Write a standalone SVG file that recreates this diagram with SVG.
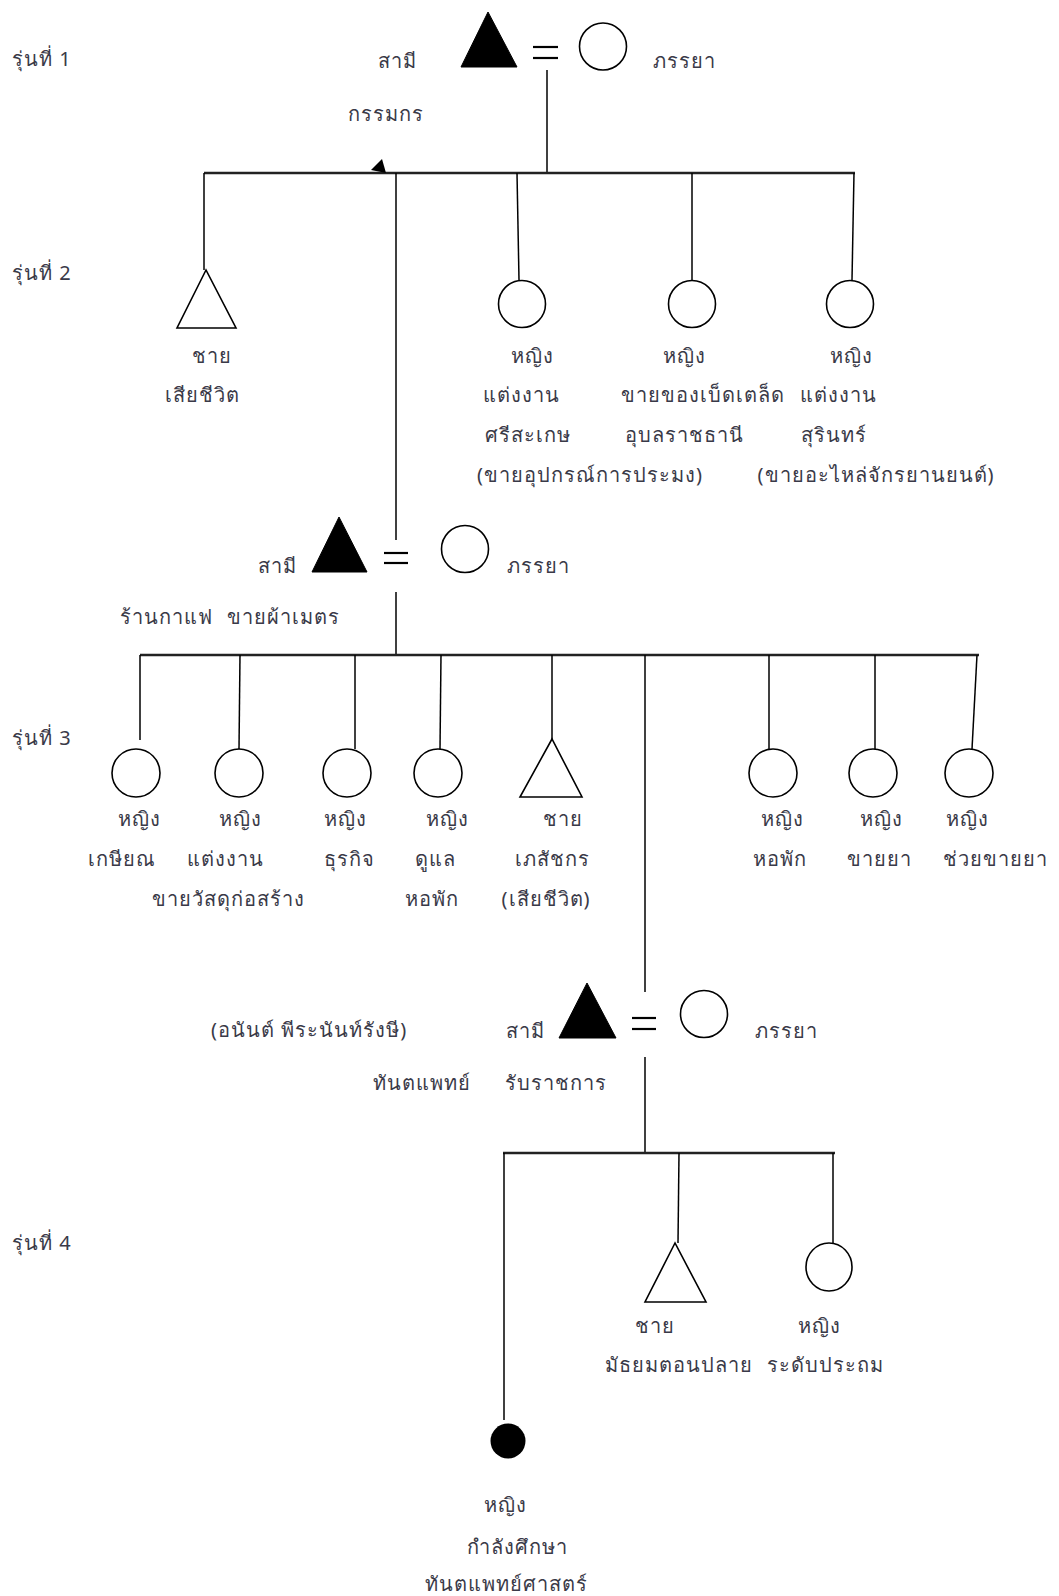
<svg xmlns="http://www.w3.org/2000/svg" width="1059" height="1596" viewBox="0 0 1059 1596">
<style>
text{font-family:"Noto Sans","DejaVu Sans",sans-serif;font-size:20px;letter-spacing:1px;fill:#3a3a48}
.m{text-anchor:middle}
.ln{stroke:#000;stroke-width:1.5;fill:none}
.bar{stroke:#222;stroke-width:2.5;fill:none}
.male{fill:#fff;stroke:#000;stroke-width:1.6}
.maleD{fill:#000;stroke:#000;stroke-width:1}
.fem{fill:#fff;stroke:#000;stroke-width:1.6}
.eq{stroke:#000;stroke-width:2.2}
</style>
<rect width="1059" height="1596" fill="#fff"/>
<g id="gen-labels">
<text x="12" y="66">รุ่นที่ 1</text>
<text x="12" y="280">รุ่นที่ 2</text>
<text x="12" y="745">รุ่นที่ 3</text>
<text x="12" y="1250">รุ่นที่ 4</text>
</g>
<g id="connectors">
<line class="ln" x1="547" y1="70" x2="547" y2="173"/>
<line class="bar" x1="204" y1="173" x2="855" y2="173"/>
<polygon points="382,159 371,170 386,173" fill="#000"/>
<line class="ln" x1="204" y1="173" x2="204" y2="270"/>
<line class="ln" x1="396" y1="173" x2="396" y2="540"/>
<line class="ln" x1="517" y1="173" x2="519" y2="280"/>
<line class="ln" x1="692" y1="173" x2="692" y2="280"/>
<line class="ln" x1="854" y1="173" x2="852" y2="280"/>
<line class="ln" x1="396" y1="592" x2="396" y2="655"/>
<line class="bar" x1="140" y1="655" x2="979" y2="655"/>
<line class="ln" x1="140" y1="655" x2="140" y2="740"/>
<line class="ln" x1="240" y1="655" x2="239" y2="749"/>
<line class="ln" x1="355" y1="655" x2="355" y2="749"/>
<line class="ln" x1="441" y1="655" x2="440" y2="749"/>
<line class="ln" x1="552" y1="655" x2="552" y2="739"/>
<line class="ln" x1="645" y1="655" x2="645" y2="992"/>
<line class="ln" x1="769" y1="655" x2="769" y2="749"/>
<line class="ln" x1="875" y1="655" x2="875" y2="749"/>
<line class="ln" x1="977" y1="655" x2="972" y2="749"/>
<line class="ln" x1="645" y1="1057" x2="645" y2="1153"/>
<line class="bar" x1="503" y1="1153" x2="835" y2="1153"/>
<line class="ln" x1="504" y1="1153" x2="504" y2="1420"/>
<line class="ln" x1="679" y1="1153" x2="678" y2="1243"/>
<line class="ln" x1="833" y1="1153" x2="833" y2="1243"/>
</g>
<g id="g1-husband">
<polygon class="maleD" points="488,12 461,67 517,67"/>
<text x="378" y="68">สามี</text>
<text x="348" y="121">กรรมกร</text>
</g>
<g id="g1-marriage">
<line class="eq" x1="533" y1="47" x2="558" y2="47"/>
<line class="eq" x1="533" y1="58" x2="558" y2="58"/>
</g>
<g id="g1-wife">
<circle class="fem" cx="603" cy="46.5" r="23.5"/>
<text x="653" y="68">ภรรยา</text>
</g>
<g id="g2-son">
<polygon class="male" points="206,270 177,328 236,328"/>
<text class="m" x="212" y="363">ชาย</text>
<text class="m" x="202" y="402">เสียชีวิต</text>
</g>
<g id="g2-daughter1">
<circle class="fem" cx="522" cy="304" r="23.5"/>
<text class="m" x="532" y="363">หญิง</text>
<text class="m" x="521" y="402">แต่งงาน</text>
<text class="m" x="528" y="442">ศรีสะเกษ</text>
<text class="m" x="590" y="482">(ขายอุปกรณ์การประมง)</text>
</g>
<g id="g2-daughter2">
<circle class="fem" cx="692" cy="304" r="23.5"/>
<text class="m" x="684" y="363">หญิง</text>
<text class="m" x="703" y="402">ขายของเบ็ดเตล็ด</text>
<text class="m" x="684" y="442">อุบลราชธานี</text>
</g>
<g id="g2-daughter3">
<circle class="fem" cx="850" cy="304" r="23.5"/>
<text class="m" x="851" y="363">หญิง</text>
<text class="m" x="838" y="402">แต่งงาน</text>
<text class="m" x="834" y="442">สุรินทร์</text>
<text class="m" x="876" y="482">(ขายอะไหล่จักรยานยนต์)</text>
</g>
<g id="g2-son2-husband">
<polygon class="maleD" points="339,517 312,572 367,572"/>
<text x="258" y="573">สามี</text>
<text x="120" y="624">ร้านกาแฟ</text>
<text x="227" y="624">ขายผ้าเมตร</text>
</g>
<g id="g2-marriage">
<line class="eq" x1="384" y1="553" x2="408" y2="553"/>
<line class="eq" x1="384" y1="563" x2="408" y2="563"/>
</g>
<g id="g2-wife">
<circle class="fem" cx="465" cy="549" r="23.5"/>
<text x="507" y="573">ภรรยา</text>
</g>
<g id="g3-c1">
<ellipse class="fem" cx="136" cy="773" rx="24" ry="24"/>
<text class="m" x="139" y="826">หญิง</text>
<text class="m" x="122" y="866">เกษียณ</text>
</g>
<g id="g3-c2">
<ellipse class="fem" cx="239" cy="773" rx="24" ry="24"/>
<text class="m" x="240" y="826">หญิง</text>
<text class="m" x="225" y="866">แต่งงาน</text>
<text class="m" x="228" y="906">ขายวัสดุก่อสร้าง</text>
</g>
<g id="g3-c3">
<ellipse class="fem" cx="347" cy="773" rx="24" ry="24"/>
<text class="m" x="345" y="826">หญิง</text>
<text class="m" x="349" y="866">ธุรกิจ</text>
</g>
<g id="g3-c4">
<ellipse class="fem" cx="438" cy="773" rx="24" ry="24"/>
<text class="m" x="447" y="826">หญิง</text>
<text class="m" x="435" y="866">ดูแล</text>
<text class="m" x="432" y="906">หอพัก</text>
</g>
<g id="g3-c5">
<polygon class="male" points="552,739 520,797 582,797"/>
<text class="m" x="563" y="826">ชาย</text>
<text class="m" x="552" y="866">เภสัชกร</text>
<text class="m" x="546" y="906">(เสียชีวิต)</text>
</g>
<g id="g3-c7">
<ellipse class="fem" cx="773" cy="773" rx="24" ry="24"/>
<text class="m" x="782" y="826">หญิง</text>
<text class="m" x="780" y="866">หอพัก</text>
</g>
<g id="g3-c8">
<ellipse class="fem" cx="873" cy="773" rx="24" ry="24"/>
<text class="m" x="881" y="826">หญิง</text>
<text class="m" x="879" y="866">ขายยา</text>
</g>
<g id="g3-c9">
<ellipse class="fem" cx="969" cy="773" rx="24" ry="24"/>
<text class="m" x="967" y="826">หญิง</text>
<text class="m" x="995" y="866">ช่วยขายยา</text>
</g>
<g id="g3-husband">
<polygon class="maleD" points="587,983 559,1038 616,1038"/>
<text x="506" y="1038">สามี</text>
<text x="211" y="1037">(อนันต์ พีระนันท์รังษี)</text>
<text x="373" y="1090">ทันตแพทย์</text>
<text x="505" y="1090">รับราชการ</text>
</g>
<g id="g3-marriage">
<line class="eq" x1="632" y1="1018" x2="656" y2="1018"/>
<line class="eq" x1="632" y1="1029" x2="656" y2="1029"/>
</g>
<g id="g3-wife">
<circle class="fem" cx="704" cy="1014" r="23.5"/>
<text x="755" y="1038">ภรรยา</text>
</g>
<g id="g4-daughter1">
<circle cx="508" cy="1441" r="17.5" fill="#000"/>
<text class="m" x="505" y="1512">หญิง</text>
<text class="m" x="517" y="1554">กำลังศึกษา</text>
<text class="m" x="506" y="1591">ทันตแพทย์ศาสตร์</text>
</g>
<g id="g4-son">
<polygon class="male" points="675,1243 645,1302 706,1302"/>
<text class="m" x="655" y="1333">ชาย</text>
<text x="605" y="1372">มัธยมตอนปลาย</text>
</g>
<g id="g4-daughter2">
<ellipse class="fem" cx="829" cy="1267" rx="23" ry="24"/>
<text class="m" x="819" y="1333">หญิง</text>
<text x="767" y="1372">ระดับประถม</text>
</g>
</svg>
